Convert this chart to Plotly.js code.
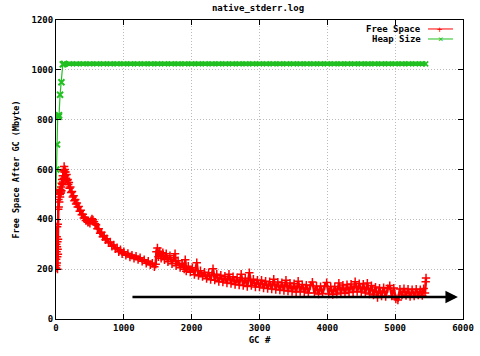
<!DOCTYPE html>
<html>
<head>
<meta charset="utf-8">
<script src="https://cdn.plot.ly/plotly-3.0.1.min.js"></script>
<style>html,body{margin:0;padding:0;background:#fff;}#chart{width:480px;height:356px;}</style>
</head>
<body>
<div id="chart"></div>
<script>
// Free Space after GC (Mbyte) vs GC #
const freeX = [0,2,4,6,8,10,12,14,16,18,20,22,24,26,28,30,33,36,40,44,48,52,56,60,64,68,72,76,80,85,90,95,100,105,110,115,120,125,130,135,140,148,156,164,172,180,190,200,212,224,236,248,260,272,284,296,308,320,335,350,365,380,395,410,425,440,455,470,485,500,515,530,545,560,575,590,610,630,650,670,690,710,730,750,775,800,825,850,875,900,925,950,975,1000,1030,1060,1090,1120,1150,1180,1210,1240,1270,1300,1330,1360,1390,1420,1450,1470,
  1480,1495,1510,1530,1550,1575,1600,1625,1650,1680,1710,1740,1755,1770,1800,1830,1860,1890,1905,1920,1950,1980,2010,2040,2075,2100,
  2130,2160,2190,2220,2250,2280,2315,2340,2370,2400,2430,2460,2490,2520,2550,2580,2610,2640,2670,2700,2730,2760,2790,2820,2850,2880,2910,2940,2970,3000,
  3030,3060,3090,3120,3150,3180,3210,3240,3270,3300,3330,3360,3390,3420,3450,3480,3510,3540,3570,3600,3630,3660,3690,3720,3750,3780,3810,3840,3870,3900,
  3930,3960,3990,4020,4050,4080,4110,4140,4170,4200,4230,4260,4290,4320,4350,4380,4410,4440,4470,4500,4530,4560,4590,4620,4650,4680,4710,4740,4770,4800,
  4830,4860,4890,4920,4950,4980,5010,5040,5070,5100,5130,5160,5190,5220,5250,5280,5310,5340,5370,5400,5420,5440,5450,5455];
const freeY = [205,240,300,215,270,330,225,290,370,250,310,200,280,380,260,320,440,480,450,505,470,515,500,490,520,505,510,530,515,545,560,540,575,550,595,565,612,590,600,575,590,565,580,555,560,540,548,525,530,508,512,490,495,475,480,462,466,450,452,432,436,418,420,405,408,395,396,388,390,384,395,402,398,390,382,378,362,362,344,348,330,334,318,322,306,309,292,297,282,286,270,278,262,270,256,263,249,256,244,252,239,246,232,238,224,232,218,224,210,220,
  270,285,250,272,244,266,238,262,230,254,222,246,262,214,234,206,224,200,238,192,212,188,206,178,226,174,
  194,170,188,162,186,158,202,156,180,150,176,148,172,144,180,142,170,138,166,136,180,134,164,130,186,134,160,128,156,128,
  156,124,152,122,150,120,160,118,148,116,146,114,156,112,144,110,142,108,152,110,138,108,136,104,134,148,104,132,100,130,
  102,132,146,100,130,98,130,100,144,104,136,102,138,106,140,108,150,110,142,108,140,104,144,100,134,96,128,86,124,92,
  126,90,122,134,92,124,80,76,120,96,122,94,120,90,118,92,120,96,118,94,122,104,150,165];

// Heap Size (Mbyte) vs GC #
const heapX = [0,5,15,25,40,45,60,80,100,120,200,300,400,500,600,700,800,900,1000,1100,1200,1300,1400,1500,1600,1700,1800,1900,2000,2100,2200,2300,2400,2500,2600,2700,2800,2900,3000,3100,3200,3300,3400,3500,3600,3700,3800,3900,4000,4100,4200,4300,4400,4500,4600,4700,4800,4900,5000,5100,5200,5300,5400,5450];
const heapY = [510,600,700,815,812,818,900,950,1022,1024,1024,1024,1024,1024,1024,1024,1024,1024,1024,1024,1024,1024,1024,1024,1024,1024,1024,1024,1024,1024,1024,1024,1024,1024,1024,1024,1024,1024,1024,1024,1024,1024,1024,1024,1024,1024,1024,1024,1024,1024,1024,1024,1024,1024,1024,1024,1024,1024,1024,1024,1024,1024,1024,1024];

const xTicks = [0,1000,2000,3000,4000,5000,6000];
const yTicks = [0,200,400,600,800,1000,1200];
const seriesNames = ['Free Space','Heap Size'];
const arrowFrom = [1105, 88];
const arrowTo = [5925, 88];

const RED = '#ff0000';
const GREEN = '#22c022';
const MONO = 'DejaVu Sans Mono, monospace';

const traces = [
  {
    x: heapX.slice(0, 10), y: heapY.slice(0, 10), name: seriesNames[1], type: 'scatter', mode: 'lines+markers',
    line: {color: GREEN, width: 1.2},
    marker: {symbol: 'x-thin', size: 6, line: {color: GREEN, width: 2}},
    showlegend: false
  },
  {
    x: heapX.slice(9), y: heapY.slice(9), type: 'scatter', mode: 'lines+markers',
    line: {color: GREEN, width: 4.5},
    marker: {symbol: 'x-thin', size: 5, line: {color: GREEN, width: 1.5}},
    showlegend: false, hoverinfo: 'skip'
  },
  {
    x: freeX, y: freeY, name: seriesNames[0], type: 'scatter', mode: 'lines+markers',
    line: {color: RED, width: 2.5},
    marker: {symbol: 'cross-thin', size: 6, line: {color: RED, width: 1.5}},
    showlegend: false
  }
];

const axisCommon = {
  showline: true, linecolor: '#000', linewidth: 1, mirror: 'ticks',
  ticks: 'inside', ticklen: 5, tickcolor: '#000',
  showgrid: true, gridcolor: '#bbbbbb', griddash: '1px,2px', gridwidth: 1,
  zeroline: false,
  tickfont: {family: MONO, size: 9, color: '#000', weight: 'bold'}
};

const layout = {
  width: 480, height: 356,
  margin: {l: 56, r: 17, t: 20, b: 37},
  paper_bgcolor: '#fff', plot_bgcolor: '#fff',
  showlegend: false,
  title: {text: 'native_stderr.log', font: {family: MONO, size: 9, color: '#000', weight: 'bold'},
          x: 0.5375, xanchor: 'center', y: 1 - 8/356, yanchor: 'middle', yref: 'container'},
  xaxis: Object.assign({}, axisCommon, {range: [0, 6000], tickvals: xTicks,
          title: {text: 'GC #', font: {family: MONO, size: 9, color: '#000', weight: 'bold'}, standoff: 4}}),
  yaxis: Object.assign({}, axisCommon, {range: [0, 1200], tickvals: yTicks,
          title: {text: 'Free Space After GC (Mbyte)', font: {family: MONO, size: 8.5, color: '#000', weight: 'bold'}, standoff: 10}}),
  annotations: [
    {x: arrowTo[0], y: arrowTo[1], ax: arrowFrom[0], ay: arrowFrom[1], xref: 'x', yref: 'y', axref: 'x', ayref: 'y',
     showarrow: true, arrowhead: 2, arrowsize: 1, arrowwidth: 2.5, arrowcolor: '#000', text: ''},
    {x: 0.9017, y: 0.970, xref: 'paper', yref: 'paper', xanchor: 'right', yanchor: 'middle', showarrow: false,
     text: seriesNames[0], font: {family: MONO, size: 9, color: '#000', weight: 'bold'}},
    {x: 0.9017, y: 0.9365, xref: 'paper', yref: 'paper', xanchor: 'right', yanchor: 'middle', showarrow: false,
     text: seriesNames[1], font: {family: MONO, size: 9, color: '#000', weight: 'bold'}},
    {x: 0.9447, y: 0.970, xref: 'paper', yref: 'paper', xanchor: 'center', yanchor: 'middle', showarrow: false,
     text: '+', font: {family: MONO, size: 9, color: RED}},
    {x: 0.9447, y: 0.9365, xref: 'paper', yref: 'paper', xanchor: 'center', yanchor: 'middle', showarrow: false,
     text: '×', font: {family: MONO, size: 9, color: GREEN}}
  ],
  shapes: [
    {type: 'line', xref: 'paper', yref: 'paper', x0: 0.914, x1: 0.9754, y0: 0.970, y1: 0.970, line: {color: RED, width: 1}},
    {type: 'line', xref: 'paper', yref: 'paper', x0: 0.914, x1: 0.9754, y0: 0.9365, y1: 0.9365, line: {color: GREEN, width: 1}}
  ]
};

Plotly.newPlot('chart', traces, layout, {displayModeBar: false, staticPlot: true});
</script>
</body>
</html>
